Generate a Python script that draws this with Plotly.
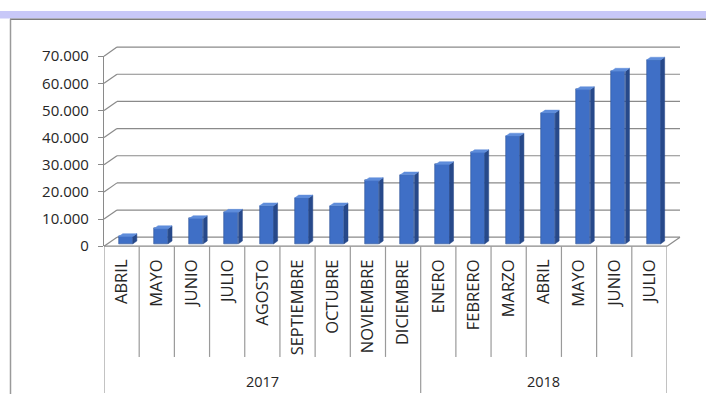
import plotly.graph_objects as go

# ---------------- data ----------------
months = ["ABRIL", "MAYO", "JUNIO", "JULIO", "AGOSTO", "SEPTIEMBRE", "OCTUBRE",
          "NOVIEMBRE", "DICIEMBRE", "ENERO", "FEBRERO", "MARZO", "ABRIL",
          "MAYO", "JUNIO", "JULIO"]
years = ["2017"] * 9 + ["2018"] * 7
values = [2700, 5600, 9300, 11650, 14000, 16900, 14000, 23300, 25400,
          29200, 33600, 39700, 48200, 56800, 63600, 67700]
y_ticks = [0, 10000, 20000, 30000, 40000, 50000, 60000, 70000]

# ---------------- geometry (pixels) ----------------
W, H = 706, 403
X_L, X_R = 104, 667          # front category span
Y_ZERO, Y_TOP = 247.5, 47.5  # front value scale
YMAX = 70000
BAR_SHIFT_PX = 2.5           # bars sit slightly behind the front edge
BACK_DX, BACK_DY = 13, 9.5   # 3D wall offset
BACK_R = 680
n = len(months)
cat_px = (X_R - X_L) / n
val_per_px = YMAX / (Y_ZERO - Y_TOP)
bar_base = BAR_SHIFT_PX * val_per_px

def fx(p):
    return p / W

def fy(p):
    return 1 - p / H

def ypx(v):
    return Y_ZERO - v / val_per_px

GRID = "#8a8a8a"
SEP = "#9a9a9a"
FRONT = "#3f6fc6"
SIDE = "#27498a"
TOP = "#5f8ddb"

BW = 0.40          # bar width (categories)
OFF = 0.12         # bar offset (categories)
ddx = 4 / cat_px   # depth in category units
ddy = 3 * val_per_px

fig = go.Figure()

xs = [i + OFF for i in range(n)]
fig.add_trace(go.Bar(
    x=xs, y=values, base=bar_base, width=BW,
    marker=dict(color=FRONT, line=dict(color="#2c5296", width=0.6)),
    customdata=values, hovertemplate="%{customdata:,d}<extra></extra>",
    showlegend=False,
))

side_x, side_y, top_x, top_y = [], [], [], []
for x, v in zip(xs, values):
    xl, xr = x - BW / 2, x + BW / 2
    b, t = bar_base, bar_base + v
    side_x += [xr, xr + ddx, xr + ddx, xr, xr, None]
    side_y += [b, b + ddy, t + ddy, t, b, None]
    top_x += [xl, xl + ddx, xr + ddx, xr, xl, None]
    top_y += [t, t + ddy, t + ddy, t, t, None]

fig.add_trace(go.Scatter(x=side_x, y=side_y, mode="lines",
                         fill="toself", fillcolor=SIDE, line=dict(color=SIDE, width=0.5),
                         hoverinfo="skip", showlegend=False, cliponaxis=False))
fig.add_trace(go.Scatter(x=top_x, y=top_y, mode="lines",
                         fill="toself", fillcolor=TOP, line=dict(color=TOP, width=0.5),
                         hoverinfo="skip", showlegend=False, cliponaxis=False))

shapes = []
# title band
shapes.append(dict(type="rect", xref="paper", yref="paper", x0=0, x1=1,
                   y0=fy(8), y1=1, fillcolor="#c8c8f8", line=dict(width=0), layer="below"))
shapes.append(dict(type="line", xref="paper", yref="paper", x0=fx(10), x1=1,
                   y0=fy(8.8), y1=fy(8.8), line=dict(color="#7d7d7d", width=1.5)))
# chart border (left)
shapes.append(dict(type="line", xref="paper", yref="paper", x0=fx(10.5), x1=fx(10.5),
                   y0=fy(8.8), y1=0, line=dict(color="#9a9a9a", width=1.5)))

# back-wall gridlines and connectors
for t in y_ticks:
    yb = ypx(t) - BACK_DY
    shapes.append(dict(type="line", xref="paper", yref="paper",
                       x0=fx(X_L + BACK_DX), x1=fx(BACK_R), y0=fy(yb), y1=fy(yb),
                       line=dict(color=GRID, width=1.2), layer="below"))
    shapes.append(dict(type="line", xref="paper", yref="paper",
                       x0=fx(X_L), x1=fx(X_L + BACK_DX), y0=fy(ypx(t)), y1=fy(yb),
                       line=dict(color=GRID, width=1.2), layer="below"))
# floor edges
shapes.append(dict(type="line", xref="paper", yref="paper", x0=fx(X_L), x1=fx(X_R),
                   y0=fy(Y_ZERO), y1=fy(Y_ZERO), line=dict(color=GRID, width=1.2)))
shapes.append(dict(type="line", xref="paper", yref="paper", x0=fx(X_R), x1=fx(BACK_R),
                   y0=fy(Y_ZERO), y1=fy(Y_ZERO - BACK_DY), line=dict(color=GRID, width=1.2)))

# category separators
for i in range(n + 1):
    b = i - 0.5
    is_year = i == 0 or i == n or years[i] != years[i - 1]
    shapes.append(dict(type="line", xref="x", yref="paper", x0=b, x1=b,
                       y0=fy(Y_ZERO), y1=fy(402 if is_year else 364),
                       line=dict(color=SEP, width=1.2)))

# year labels
annotations = []
for yr in dict.fromkeys(years):
    idx = [i for i, y in enumerate(years) if y == yr]
    annotations.append(dict(x=(idx[0] + idx[-1]) / 2, xref="x", y=fy(390), yref="paper",
                            text=yr, showarrow=False, xanchor="center", yanchor="middle",
                            font=dict(family="Open Sans", size=14.5, color="#262626")))

fig.update_layout(
    width=W, height=H, margin=dict(l=0, r=0, t=0, b=0),
    paper_bgcolor="white", plot_bgcolor="rgba(0,0,0,0)",
    separators=",.",
    font=dict(family="Open Sans", size=14, color="#262626"),
    xaxis=dict(domain=[fx(X_L), fx(X_R)], range=[-0.5, n - 0.5], anchor="y",
               tickmode="array", tickvals=list(range(n)), ticktext=months,
               tickangle=-90, ticks="", showgrid=False, zeroline=False, showline=False,
               ticklabelstandoff=9, tickfont=dict(size=16.5, color="#262626")),
    yaxis=dict(domain=[fy(Y_ZERO), fy(Y_TOP)], range=[0, YMAX], anchor="x",
               tickmode="array", tickvals=y_ticks, tickformat=",d",
               ticks="outside", ticklen=5, tickcolor=GRID, showline=True,
               linecolor=GRID, linewidth=1.2, showgrid=False, zeroline=False,
               ticklabelstandoff=6, tickfont=dict(size=15, color="#262626")),
    shapes=shapes, annotations=annotations, bargap=0,
)

fig.write_html("out.html", config={"displayModeBar": False},
               post_script="document.body.style.margin='0px';")
